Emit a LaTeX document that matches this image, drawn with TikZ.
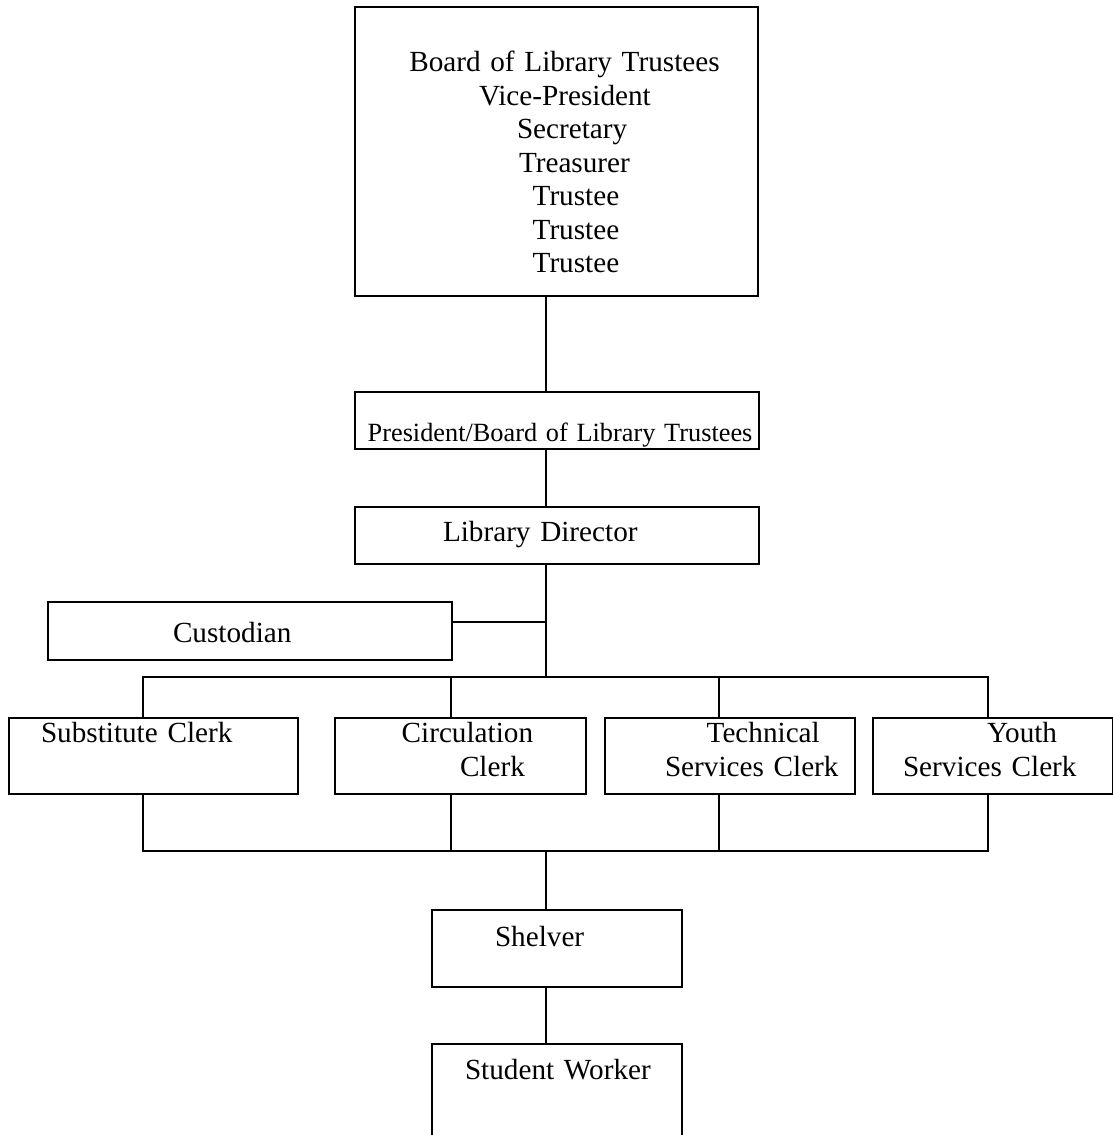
\documentclass[tikz,border=0pt]{standalone}
\usepackage{fontspec}
\setmainfont{Liberation Serif}
\usepackage{tikz}

\tikzset{
    orgbox/.style={draw, line width=2pt, inner sep=0pt, anchor=north west, align=left,
        font=\fontsize{29.2}{33.5}\selectfont},
    link/.style={line width=2pt}
}

\begin{document}
\begin{tikzpicture}[x=1pt,y=-1pt]
        \path[use as bounding box, fill=white] (0,0) rectangle (1113,1135);

        \node[orgbox, text width=403pt, text height=64.7pt, text depth=224.3pt] (board) at (354,6)
            {\hspace*{54.3pt}Board of Library Trustees\\ \hspace*{124pt}Vice-President\\
             \hspace*{162pt}Secretary\\ \hspace*{164pt}Treasurer\\ \hspace*{177.7pt}Trustee\\
             \hspace*{177.7pt}Trustee\\ \hspace*{177.7pt}Trustee};
        \node[orgbox, text width=404pt, text height=49.3pt, text depth=8.3pt,
            font=\fontsize{26.3}{30}\selectfont] (pres) at (354,390.7)
            {\hspace*{12.7pt}President/Board of Library Trustees};
        \node[orgbox, text width=404pt, text height=34pt, text depth=23pt] (dir) at (354,506)
            {\hspace*{88pt}Library Director};
        \node[orgbox, text width=404.3pt, text height=39.7pt, text depth=18.3pt] (cust) at (46.7,601.3)
            {\hspace*{125.3pt}Custodian};

        \node[orgbox, text width=288.4pt, text height=24.7pt, text depth=51.6pt] (sub) at (8.3,717)
            {\hspace*{31.7pt}Substitute Clerk};
        \node[orgbox, text width=250.7pt, text height=24.7pt, text depth=51.6pt] (circ) at (334.3,717)
            {\hspace*{66.4pt}Circulation\\ \hspace*{124.7pt}Clerk};
        \node[orgbox, text width=250pt, text height=24.7pt, text depth=51.6pt] (tech) at (604,717)
            {\hspace*{101.7pt}Technical\\ \hspace*{60pt}Services Clerk};
        \node[orgbox, text width=240pt, text height=24.7pt, text depth=51.6pt] (youth) at (872,717)
            {\hspace*{114pt}Youth\\ \hspace*{30pt}Services Clerk};

        \node[orgbox, text width=250.3pt, text height=36pt, text depth=40.7pt] (shelv) at (430.7,909)
            {\hspace*{63.3pt}Shelver};
        \node[orgbox, text width=250.3pt, text height=35.3pt, text depth=72pt] (stud) at (430.7,1042.7)
            {\hspace*{33.3pt}Student Worker};

        \coordinate (upbus) at (546,676.7);
        \coordinate (lowbus) at (546,850.5);

        \draw[link] (board.south -| upbus) -- (pres.north -| upbus);
        \draw[link] (pres.south -| upbus) -- (dir.north -| upbus);
        \draw[link] (dir.south -| upbus) -- (upbus);
        \draw[link] ([yshift=9.6pt]cust.east) -- ([yshift=9.6pt]cust.east -| upbus);

        \foreach \n/\x in {sub/143.3, circ/450.7, tech/719, youth/988}
            \coordinate (top\n) at (\x,676.7);

        \draw[link] (sub.north -| topsub) -- (topsub) -- (topyouth) -- (youth.north -| topyouth);
        \draw[link] (sub.south -| topsub) -- (topsub |- lowbus) -- (topyouth |- lowbus) -- (youth.south -| topyouth);
        \foreach \n in {circ, tech} {
            \draw[link] (top\n) -- (\n.north -| top\n);
            \draw[link] (\n.south -| top\n) -- (top\n |- lowbus);
        }

        \draw[link] (lowbus) -- (shelv.north -| lowbus);
        \draw[link] (shelv.south -| lowbus) -- (stud.north -| lowbus);
    \end{tikzpicture}
\end{document}
